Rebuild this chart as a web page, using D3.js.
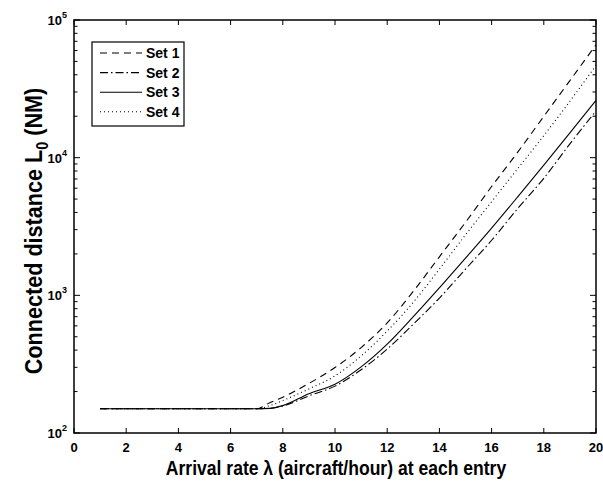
<!DOCTYPE html>
<html><head><meta charset="utf-8">
<script src="https://cdn.jsdelivr.net/npm/d3@7"></script>
<style>body{margin:0;background:#fff;} text{font-family:"Liberation Sans",Arial,sans-serif;font-weight:bold;}</style>
</head><body>
<script>
const xs   = [1,2,3,4,5,6,7,7.5,8,9,10,11,12,13,14,15,16,17,18,19,20];
const set1 = [150,150,150,150,150,150,150,166,182,229,299,417,631,1070,1905,3390,6170,10960,19950,36300,66070];
const set2 = [150,150,150,150,150,150,150,151,157,186,219,288,407,617,955,1549,2512,4270,7080,12590,21880];
const set3 = [150,150,150,150,150,150,150,151,158,193,226,302,442,700,1135,1862,3076,5190,8830,15140,26060];
const set4 = [150,150,150,150,150,150,150,158,172,209,260,363,550,891,1550,2750,4790,8320,14450,25700,46800];
const seriesNames = ["Set 1","Set 2","Set 3","Set 4"];
const xTicks = [0,2,4,6,8,10,12,14,16,18,20];
const yDecades = [2,3,4,5];

const W=603,H=481;
const m={l:74,r:596,t:20,b:433};
const svg=d3.select("body").append("svg").attr("width",W).attr("height",H);
const x=d3.scaleLinear().domain([0,20]).range([m.l,m.r]);
const y=d3.scaleLog().domain([1e2,1e5]).range([m.b,m.t]);

const styles=[
 {dash:"7,5"},
 {dash:"8,3,1.5,3"},
 {dash:null},
 {dash:"1,3"}
];
const all=[set1,set2,set3,set4];
const line=d3.line().x((d,i)=>x(xs[i])).y(d=>y(d)).curve(d3.curveMonotoneX);
all.forEach((s,k)=>{
  svg.append("path").attr("d",line(s)).attr("fill","none").attr("stroke","#000")
   .attr("stroke-width",1.1).attr("stroke-dasharray",styles[k].dash);
});

// frame
svg.append("rect").attr("x",m.l).attr("y",m.t).attr("width",m.r-m.l).attr("height",m.b-m.t)
  .attr("fill","none").attr("stroke","#000").attr("stroke-width",1.5);

// x ticks
const gx=svg.append("g");
xTicks.forEach(t=>{
  gx.append("line").attr("x1",x(t)).attr("x2",x(t)).attr("y1",m.b).attr("y2",m.b-5).attr("stroke","#000");
  gx.append("line").attr("x1",x(t)).attr("x2",x(t)).attr("y1",m.t).attr("y2",m.t+5).attr("stroke","#000");
  gx.append("text").attr("x",x(t)).attr("y",m.b+19).attr("text-anchor","middle").attr("font-size",13).text(t);
});
// y ticks
const gy=svg.append("g");
yDecades.forEach(e=>{
  const v=Math.pow(10,e);
  gy.append("line").attr("x1",m.l).attr("x2",m.l+6).attr("y1",y(v)).attr("y2",y(v)).attr("stroke","#000");
  gy.append("line").attr("x1",m.r).attr("x2",m.r-6).attr("y1",y(v)).attr("y2",y(v)).attr("stroke","#000");
  const t=gy.append("text").attr("x",m.l-7).attr("y",y(v)+5).attr("text-anchor","end").attr("font-size",13);
  t.append("tspan").text("10");
  t.append("tspan").attr("dy",-7).attr("font-size",9).text(e);
  if(e<5){
    for(let k=2;k<=9;k++){
      const vv=k*v;
      gy.append("line").attr("x1",m.l).attr("x2",m.l+3.5).attr("y1",y(vv)).attr("y2",y(vv)).attr("stroke","#000");
      gy.append("line").attr("x1",m.r).attr("x2",m.r-3.5).attr("y1",y(vv)).attr("y2",y(vv)).attr("stroke","#000");
    }
  }
});

// axis labels
svg.append("text").attr("transform",`translate(${(m.l+m.r)/2+1},475) scale(0.9,1)`).attr("text-anchor","middle").attr("font-size",19.5)
  .text("Arrival rate λ (aircraft/hour) at each entry");
const yl=svg.append("text").attr("transform",`translate(42,231) rotate(-90) scale(0.9,1)`).attr("text-anchor","middle").attr("font-size",24);
yl.append("tspan").text("Connected distance L");
yl.append("tspan").attr("dy",6).attr("font-size",16).text("0");
yl.append("tspan").attr("dy",-6).text(" (NM)");

// legend
const lg=svg.append("g");
lg.append("rect").attr("x",92).attr("y",42).attr("width",92).attr("height",84).attr("fill","#fff").attr("stroke","#000").attr("stroke-width",1.2);
seriesNames.forEach((n,k)=>{
  const yy=53+k*19.6;
  lg.append("line").attr("x1",100).attr("x2",142).attr("y1",yy).attr("y2",yy).attr("stroke","#000").attr("stroke-width",1.1).attr("stroke-dasharray",styles[k].dash);
  lg.append("text").attr("x",146).attr("y",yy+5).attr("font-size",14).text(n);
});
</script>
</body></html>
